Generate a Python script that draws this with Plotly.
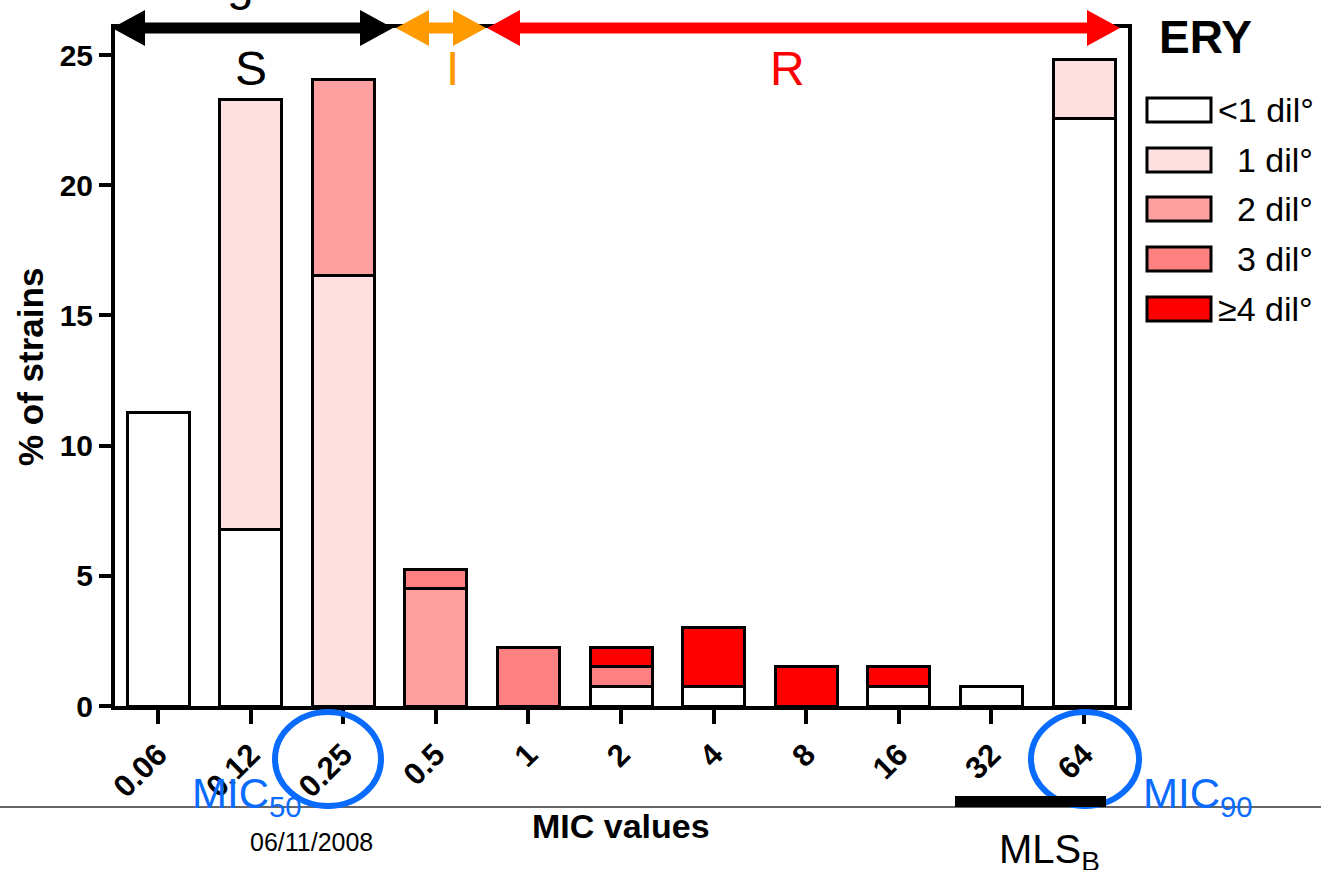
import plotly.graph_objects as go

# ---------------- data ----------------
mic_values = ["0.06", "0.12", "0.25", "0.5", "1", "2", "4", "8", "16", "32", "64"]
lt1_dil = [11.28, 6.77, None, None, None, 0.75, 0.75, None, 0.75, 0.75, 22.56]
dil_1 = [None, 16.54, 16.54, None, None, None, None, None, None, None, 2.26]
dil_2 = [None, None, 7.52, 4.51, None, None, None, None, None, None, None]
dil_3 = [None, None, None, 0.75, 2.26, 0.75, None, None, None, None, None]
ge4_dil = [None, None, None, None, None, 0.75, 2.26, 1.5, 0.75, None, None]

series_names = ["<1 dil°", "  1 dil°", "  2 dil°", "  3 dil°", "≥4 dil°"]
series_values = [lt1_dil, dil_1, dil_2, dil_3, ge4_dil]
series_colors = ["#FFFFFF", "#FFE0E0", "#FFA0A0", "#FF8080", "#FF0000"]
y_ticks = [0, 5, 10, 15, 20, 25]

FONT = "Liberation Sans, Arial, Helvetica, sans-serif"
BLUE = "#0A6CFF"
ORANGE = "#FF9900"
RED = "#FF0000"

# plot-area geometry (pixels)
W_PAGE, H_PAGE = 1321, 870
L, R, T, B = 115, 1128, 28, 706
PW, PH = R - L, B - T


def px(X):
    return (X - L) / PW


def py(Y):
    return (B - Y) / PH


fig = go.Figure()
for name, vals, col in zip(series_names, series_values, series_colors):
    fig.add_trace(go.Bar(
        x=mic_values, y=vals, name=name, width=0.67,
        marker=dict(color=col, line=dict(color="black", width=3)),
        showlegend=False,
    ))

shapes = []
annotations = []

# thin full-width line near bottom
shapes.append(dict(type="line", xref="paper", yref="paper", x0=px(0), x1=px(W_PAGE),
                   y0=py(807), y1=py(807), line=dict(color="#333333", width=1.5)))


def arrow(x_left, x_right, color, thick=11, hw=33, hh=36):
    yc = 28
    shapes.append(dict(type="line", xref="paper", yref="paper",
                       x0=px(x_left + hw - 2), x1=px(x_right - hw + 2), y0=py(yc), y1=py(yc),
                       line=dict(color=color, width=thick)))
    shapes.append(dict(type="path", xref="paper", yref="paper",
                       path=f"M {px(x_left)},{py(yc)} L {px(x_left + hw)},{py(yc - hh / 2)} "
                            f"L {px(x_left + hw)},{py(yc + hh / 2)} Z",
                       fillcolor=color, line=dict(width=0)))
    shapes.append(dict(type="path", xref="paper", yref="paper",
                       path=f"M {px(x_right)},{py(yc)} L {px(x_right - hw)},{py(yc - hh / 2)} "
                            f"L {px(x_right - hw)},{py(yc + hh / 2)} Z",
                       fillcolor=color, line=dict(width=0)))


arrow(112, 393, "black")
arrow(396, 486, ORANGE)
arrow(487, 1120, RED)

# blue ellipses
for x0, x1 in [(275, 381), (1031, 1139)]:
    shapes.append(dict(type="circle", xref="paper", yref="paper",
                       x0=px(x0), x1=px(x1), y0=py(806), y1=py(712),
                       line=dict(color=BLUE, width=6)))

# MLSB thick bar
shapes.append(dict(type="rect", xref="paper", yref="paper",
                   x0=px(955), x1=px(1106), y0=py(807), y1=py(796),
                   fillcolor="black", line=dict(width=0)))

# manual legend
leg_rows = [110, 160, 209, 259, 309]
for yc, name, col in zip(leg_rows, series_names, series_colors):
    shapes.append(dict(type="rect", xref="paper", yref="paper",
                       x0=px(1147), x1=px(1211), y0=py(yc + 12), y1=py(yc - 12),
                       fillcolor=col, line=dict(color="black", width=3)))
    annotations.append(dict(xref="paper", yref="paper", x=px(1216), y=py(yc),
                            xanchor="left", yanchor="middle", showarrow=False,
                            text=name.replace(" ", "&nbsp;"),
                            font=dict(family=FONT, size=34, color="black")))

annotations.append(dict(xref="paper", yref="paper", x=px(1205), y=py(37),
                        xanchor="center", yanchor="middle", showarrow=False, text="ERY",
                        font=dict(family=FONT, size=46, color="black", weight="bold")))

# S / I / R labels
for txt, xc, col in [("S", 251, "black"), ("I", 452, ORANGE), ("R", 787, RED)]:
    annotations.append(dict(xref="paper", yref="paper", x=px(xc), y=py(68),
                            xanchor="center", yanchor="middle", showarrow=False, text=txt,
                            font=dict(family=FONT, size=48, color=col)))

# partially visible heading glyph at the very top
annotations.append(dict(xref="paper", yref="paper", x=px(240), y=py(-17),
                        xanchor="center", yanchor="middle", showarrow=False, text="g",
                        font=dict(family=FONT, size=48, color="black")))

# MIC50 / MIC90 / MLSB / date
annotations.append(dict(xref="paper", yref="paper", x=px(190), y=py(796),
                        xanchor="left", yanchor="middle", showarrow=False,
                        text="MIC<sub>50</sub>", font=dict(family=FONT, size=42, color=BLUE)))
annotations.append(dict(xref="paper", yref="paper", x=px(1141), y=py(796),
                        xanchor="left", yanchor="middle", showarrow=False,
                        text="MIC<sub>90</sub>", font=dict(family=FONT, size=42, color=BLUE)))
annotations.append(dict(xref="paper", yref="paper", x=px(997), y=py(852),
                        xanchor="left", yanchor="middle", showarrow=False,
                        text="MLS<sub>B</sub>", font=dict(family=FONT, size=40, color="black")))
annotations.append(dict(xref="paper", yref="paper", x=px(311), y=py(842),
                        xanchor="center", yanchor="middle", showarrow=False,
                        text="06/11/2008", font=dict(family=FONT, size=25, color="black")))

# axis titles
annotations.append(dict(xref="paper", yref="paper", x=px(621), y=py(826),
                        xanchor="center", yanchor="middle", showarrow=False,
                        text="MIC values",
                        font=dict(family=FONT, size=34, color="black", weight="bold")))
annotations.append(dict(xref="paper", yref="paper", x=px(30), y=py(367),
                        xanchor="center", yanchor="middle", showarrow=False,
                        text="% of strains", textangle=-90,
                        font=dict(family=FONT, size=35, color="black", weight="bold")))

fig.update_layout(
    width=W_PAGE, height=H_PAGE,
    margin=dict(l=L, r=W_PAGE - R, t=T, b=H_PAGE - B, autoexpand=False),
    paper_bgcolor="white", plot_bgcolor="white",
    barmode="stack", bargap=0.33,
    shapes=shapes, annotations=annotations,
    xaxis=dict(type="category", range=[-0.465, 10.475], showgrid=False, zeroline=False,
               showline=True, linecolor="black", linewidth=4, mirror=True,
               ticks="outside", ticklen=14, tickwidth=4, tickcolor="black",
               tickangle=-45,
               tickfont=dict(family=FONT, size=31, color="black", weight="bold")),
    yaxis=dict(range=[0, 26.04], tickvals=y_ticks, showgrid=False, zeroline=False,
               showline=True, linecolor="black", linewidth=4, mirror=True,
               ticks="outside", ticklen=12, tickwidth=4, tickcolor="black",
               tickfont=dict(family=FONT, size=30, color="black", weight="bold")),
    showlegend=False,
)

fig.write_html("out.html")
